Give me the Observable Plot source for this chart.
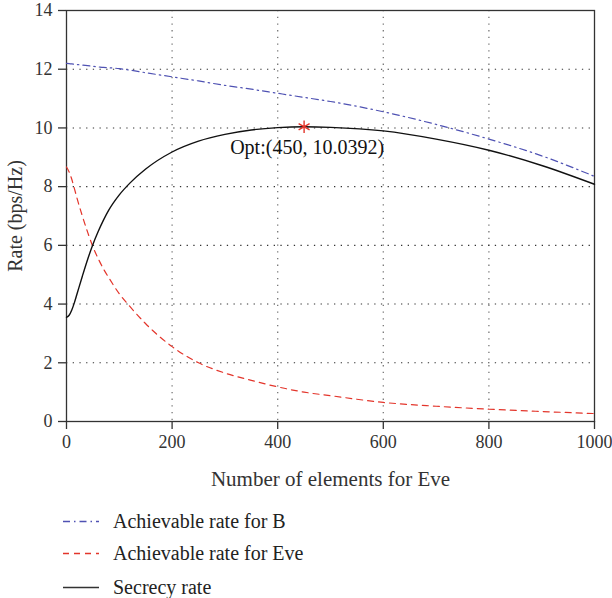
<!DOCTYPE html>
<html>
<head>
<meta charset="utf-8">
<script src="https://cdn.jsdelivr.net/npm/d3@7"></script>
<script src="https://cdn.jsdelivr.net/npm/@observablehq/plot@0.6"></script>
<style>
  html, body { margin: 0; padding: 0; background: #fff; }
  #wrap { position: relative; width: 612px; height: 598px; font-family: "Liberation Serif", "DejaVu Serif", serif; color: #222; }
  #legend { position: absolute; left: 0; top: 0; width: 612px; }
  .row { position: absolute; left: 63px; height: 24px; display: flex; align-items: center; font-size: 20px; }
  .row svg { margin-right: 14px; }
</style>
</head>
<body>
<div id="wrap">
  <div id="chart"></div>
  <div id="legend"></div>
</div>
<script>
// Number of elements for Eve
const nValues = [0, 5, 10, 15, 20, 30, 40, 50, 60, 70, 80, 100, 120, 150, 200, 250, 300, 350, 400, 450, 500, 600, 700, 800, 900, 1000];
// Achievable rate for B
const rateB = [12.2, 12.19, 12.18, 12.17, 12.16, 12.14, 12.12, 12.1, 12.08, 12.06, 12.05, 12.02, 11.97, 11.88, 11.74, 11.6, 11.45, 11.32, 11.18, 11.04, 10.9, 10.55, 10.12, 9.62, 9.05, 8.35];
// Achievable rate for Eve
const rateEve = [8.67, 8.5, 8.25, 7.93, 7.6, 7.0, 6.45, 5.95, 5.55, 5.2, 4.9, 4.35, 3.92, 3.33, 2.55, 2.0, 1.65, 1.4, 1.18, 1.0, 0.88, 0.65, 0.52, 0.42, 0.34, 0.27];
// Secrecy rate
const secrecy = [3.55, 3.62, 3.8, 4.05, 4.35, 4.95, 5.52, 6.03, 6.47, 6.86, 7.2, 7.72, 8.12, 8.6, 9.18, 9.55, 9.78, 9.93, 10.01, 10.0392, 10.02, 9.9, 9.62, 9.24, 8.72, 8.08];

const optN = [450];
const optRate = [10.0392];
const optLabel = ["Opt:(450, 10.0392)"];

const xTicks = [0, 200, 400, 600, 800, 1000];
const yTicks = [0, 2, 4, 6, 8, 10, 12, 14];
const xGrid = [200, 400, 600, 800];
const yGrid = [2, 4, 6, 8, 10, 12];

const seriesNames = ["Achievable rate for B", "Achievable rate for Eve", "Secrecy rate"];
const colors = ["#4f52b3", "#e3352b", "#111111"];
const dashes = ["7,4,1.5,4", "6,5", null];

const table = (ys) => nValues.map((n, i) => ({n, v: ys[i]}));
const optData = optN.map((n, i) => ({n, v: optRate[i], label: optLabel[i]}));

const chart = Plot.plot({
  width: 612,
  height: 490,
  marginLeft: 66,
  marginRight: 18,
  marginTop: 10,
  marginBottom: 69,
  style: {fontFamily: "Liberation Serif, DejaVu Serif, serif", fontSize: "18px", color: "#333", background: "#fff"},
  x: {domain: [0, 1000]},
  y: {domain: [0, 14]},
  marks: [
    Plot.ruleX(xGrid, {stroke: "#777", strokeWidth: 1.3, strokeDasharray: "1.3,5.4"}),
    Plot.ruleY(yGrid, {stroke: "#333", strokeWidth: 1.1, strokeDasharray: "1.3,5.4"}),
    Plot.frame({stroke: "#333", strokeWidth: 1.3}),
    Plot.axisX({ticks: xTicks, tickFormat: d3.format("d"), tickSize: 8, tickPadding: 6, stroke: "#333", strokeWidth: 1.3, fontSize: 18, label: null}),
    Plot.axisY({ticks: yTicks, tickFormat: d3.format("d"), tickSize: 8, tickPadding: 6, stroke: "#333", strokeWidth: 1.3, fontSize: 18, label: null}),
    Plot.axisX({ticks: [], tickSize: 0, label: "Number of elements for Eve", labelAnchor: "center", labelArrow: "none", labelOffset: 64, fontSize: 21}),
    Plot.axisY({ticks: [], tickSize: 0, label: "Rate (bps/Hz)", labelAnchor: "center", labelArrow: "none", labelOffset: 59, fontSize: 20}),
    Plot.line(table(rateB), {x: "n", y: "v", stroke: colors[0], strokeWidth: 1.2, strokeDasharray: dashes[0], curve: "monotone-x"}),
    Plot.line(table(rateEve), {x: "n", y: "v", stroke: colors[1], strokeWidth: 1.2, strokeDasharray: dashes[1], curve: "monotone-x"}),
    Plot.line(table(secrecy), {x: "n", y: "v", stroke: colors[2], strokeWidth: 1.4, curve: "monotone-x"}),
    Plot.dot(optData, {x: "n", y: "v", symbol: "asterisk", r: 6, stroke: "#e3352b", strokeWidth: 1.4}),
    Plot.text(optData, {x: "n", y: "v", text: "label", textAnchor: "middle", lineAnchor: "top", dy: 13, dx: 3, fill: "#111", fontSize: 20})
  ]
});
document.getElementById("chart").appendChild(chart);

// Legend below the plot
const legend = document.getElementById("legend");
const rowTops = [509, 541, 575];
seriesNames.forEach((name, i) => {
  const row = document.createElement("div");
  row.className = "row";
  row.style.top = rowTops[i] + "px";
  const sw = d3.create("svg").attr("width", 36).attr("height", 24);
  sw.append("line").attr("x1", 0).attr("x2", 36).attr("y1", 12.5).attr("y2", 12.5)
    .attr("stroke", i === 2 ? "#333" : colors[i]).attr("stroke-width", i === 2 ? 1.5 : 1.3)
    .attr("stroke-dasharray", dashes[i]);
  row.appendChild(sw.node());
  const t = document.createElement("span");
  t.textContent = name;
  row.appendChild(t);
  legend.appendChild(row);
});
</script>
</body>
</html>
